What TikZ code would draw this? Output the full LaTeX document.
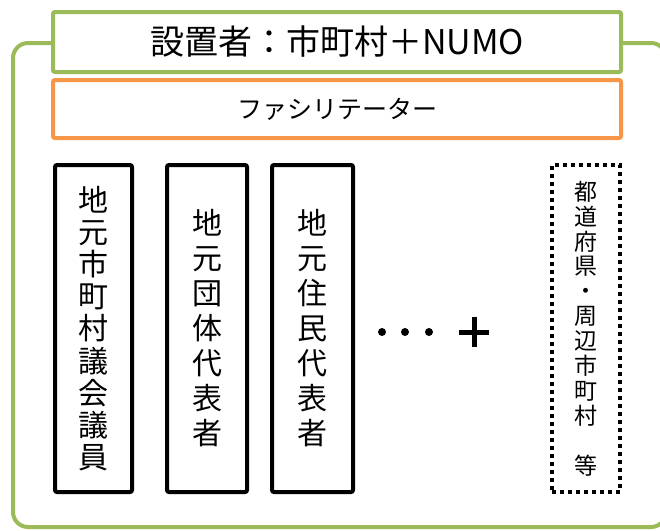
\documentclass[tikz,border=0pt]{standalone}
\usepackage{fontspec}
\setmainfont{Noto Sans CJK JP}
\definecolor{frgreen}{HTML}{9BBB59}
\definecolor{frorange}{HTML}{F79646}
\tikzset{
  hbox/.style={draw, line width=4pt, fill=white, minimum width=568pt, inner sep=0pt, rounded corners=2pt},
  vbox/.style={draw=black, line width=4pt, fill=white, minimum height=327pt, inner sep=0pt, rounded corners=2pt, align=center},
  dotbox/.style={draw=black, line width=4pt, dash pattern=on 4pt off 4pt, minimum height=327pt, minimum width=68pt, inner sep=0pt, align=center, font=\fontsize{23}{24.9}\selectfont},
  dotmark/.style={circle, fill=black, minimum size=8pt, inner sep=0pt}
}
\begin{document}
\begin{tikzpicture}[x=1pt,y=-1pt]
\useasboundingbox (0,0) rectangle (660,530);
\clip (0,0) rectangle (660,530);
% outer frame
\draw[frgreen, line width=4pt, rounded corners=15pt] (13,43) rectangle (666,527);
% header boxes
\node[hbox, draw=frgreen, minimum height=60pt, font=\fontsize{34}{38}\selectfont] (setter) at (337,42) {設置者：市町村＋NUMO};
\node[hbox, draw=frorange, minimum height=58pt, font=\fontsize{25}{30}\selectfont] (facil) at (337,109) {ファシリテーター};
% vertical boxes
\node[vbox, minimum width=77pt, font=\fontsize{30}{32.2}\selectfont] (giin) at (93.5,328.5) {地\\元\\市\\町\\村\\議\\会\\議\\員};
\node[vbox, minimum width=80pt, font=\fontsize{30}{35}\selectfont] (dantai) at (207,328.5) {地\\元\\団\\体\\代\\表\\者};
\node[vbox, minimum width=81pt, font=\fontsize{30}{35}\selectfont] (jumin) at (312.5,328.5) {地\\元\\住\\民\\代\\表\\者};
\node[dotbox] (pref) at (586,328.5) {都\\道\\府\\県\\・\\周\\辺\\市\\町\\村\\　\\等};
% dots and plus
\node[dotmark] (d1) at (382,332) {};
\node[dotmark] (d2) at (405,332) {};
\node[dotmark] (d3) at (429,332) {};
\coordinate (pc) at (474,332);
\draw[line width=5pt] ([xshift=-15pt]pc) -- ([xshift=15pt]pc);
\draw[line width=5pt] ([yshift=-15pt]pc) -- ([yshift=15pt]pc);
\end{tikzpicture}
\end{document}
